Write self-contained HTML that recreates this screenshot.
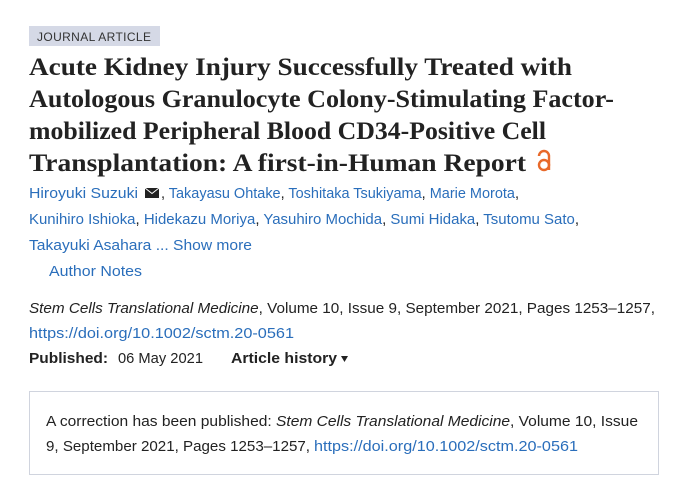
<!DOCTYPE html>
<html><head><meta charset="utf-8"><style>
html,body{margin:0;padding:0;background:#fff;width:687px;height:480px;overflow:hidden}
svg{display:block}
.s{font-family:"Liberation Sans",sans-serif;font-size:15px}
.t{font-family:"Liberation Serif",serif;font-size:25px;font-weight:bold;fill:#222}
.b{fill:#2a6ebb}
.k{fill:#222}
</style></head><body>
<svg width="687" height="480" viewBox="0 0 687 480" xmlns="http://www.w3.org/2000/svg">
<rect x="29" y="26" width="131" height="20" fill="#d5d9e6"/>
<text x="37" y="41" font-family="Liberation Sans,sans-serif" font-size="12" fill="#333" textLength="114" lengthAdjust="spacing">JOURNAL ARTICLE</text>
<text class="t" x="29" y="75" textLength="543" lengthAdjust="spacingAndGlyphs">Acute Kidney Injury Successfully Treated with</text>
<text class="t" x="29" y="107" textLength="585" lengthAdjust="spacingAndGlyphs">Autologous Granulocyte Colony-Stimulating Factor-</text>
<text class="t" x="29" y="139" textLength="517" lengthAdjust="spacingAndGlyphs">mobilized Peripheral Blood CD34-Positive Cell</text>
<text class="t" x="29" y="171" textLength="497" lengthAdjust="spacingAndGlyphs">Transplantation: A first-in-Human Report</text>
<g fill="none" stroke="#e8692a" stroke-width="2.4">
<path d="M539 156 a5 5 0 0 1 10 0 V170"/>
<circle cx="544" cy="165" r="5"/>
</g>
<text class="s b" x="29" y="198" textLength="109" lengthAdjust="spacingAndGlyphs">Hiroyuki Suzuki</text>
<path d="M145 188 h14 v10 h-14z" fill="#222"/>
<path d="M145 188 l7 5.5 l7 -5.5" fill="none" stroke="#fff" stroke-width="1"/>
<text class="s b" x="161" y="198" textLength="358" lengthAdjust="spacingAndGlyphs"><tspan class="k">,</tspan> Takayasu Ohtake<tspan class="k">,</tspan> Toshitaka Tsukiyama<tspan class="k">,</tspan> Marie Morota<tspan class="k">,</tspan></text>
<text class="s b" x="29" y="224" textLength="550" lengthAdjust="spacingAndGlyphs">Kunihiro Ishioka<tspan class="k">,</tspan> Hidekazu Moriya<tspan class="k">,</tspan> Yasuhiro Mochida<tspan class="k">,</tspan> Sumi Hidaka<tspan class="k">,</tspan> Tsutomu Sato<tspan class="k">,</tspan></text>
<text class="s b" x="29" y="250" textLength="223" lengthAdjust="spacingAndGlyphs">Takayuki Asahara ... Show more</text>
<text class="s b" x="49" y="276" textLength="93" lengthAdjust="spacingAndGlyphs">Author Notes</text>
<text class="s k" x="29" y="313" textLength="626" lengthAdjust="spacingAndGlyphs"><tspan font-style="italic">Stem Cells Translational Medicine</tspan>, Volume 10, Issue 9, September 2021, Pages 1253–1257,</text>
<text class="s b" x="29" y="338" textLength="265" lengthAdjust="spacingAndGlyphs">https://doi.org/10.1002/sctm.20-0561</text>
<text class="s k" x="29" y="363" font-weight="bold" textLength="79" lengthAdjust="spacingAndGlyphs">Published:</text>
<text class="s k" x="118" y="363" textLength="85" lengthAdjust="spacingAndGlyphs">06 May 2021</text>
<text class="s k" x="231" y="363" font-weight="bold" textLength="106" lengthAdjust="spacingAndGlyphs">Article history</text>
<path d="M341 356 h7 l-3.5 6z" fill="#222"/>
<rect x="29.5" y="391.5" width="629" height="83" fill="none" stroke="#d0d4de"/>
<text class="s k" x="46" y="426" textLength="592" lengthAdjust="spacingAndGlyphs">A correction has been published: <tspan font-style="italic">Stem Cells Translational Medicine</tspan>, Volume 10, Issue</text>
<text class="s k" x="46" y="451" textLength="264" lengthAdjust="spacingAndGlyphs">9, September 2021, Pages 1253–1257,</text>
<text class="s b" x="314" y="451" textLength="264" lengthAdjust="spacingAndGlyphs">https://doi.org/10.1002/sctm.20-0561</text>
</svg>
</body></html>
